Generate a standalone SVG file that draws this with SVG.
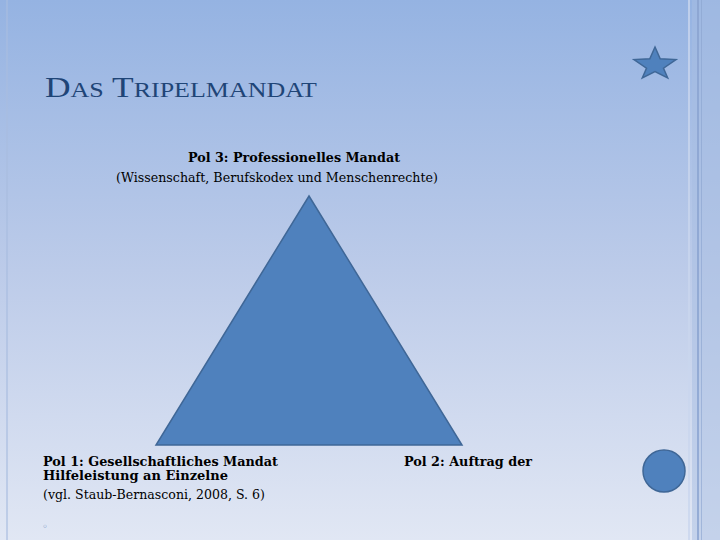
<svg xmlns="http://www.w3.org/2000/svg" width="720" height="540" viewBox="0 0 720 540">
<defs>
<linearGradient id="bg" x1="0" y1="0" x2="0" y2="1">
<stop offset="0" stop-color="#95b3e2"/>
<stop offset="0.5" stop-color="#bccbe9"/>
<stop offset="1" stop-color="#e1e7f4"/>
</linearGradient>
<style>
.t{font-family:'DejaVu Serif','Liberation Serif',serif;fill:#000;font-size:12.5px}
.b{font-weight:bold}
.s{font-size:12px}
.shape{fill:#4f81bd;stroke:#3f6797;stroke-width:1.5}
.title{font-family:'Liberation Serif','DejaVu Serif',serif;font-size:30px;fill:#1f4577}
</style>
</defs>
<rect width="720" height="540" fill="url(#bg)"/>
<rect x="6" y="0" width="2" height="540" fill="#a9bde0" opacity="0.6"/>
<rect x="688" y="0" width="2" height="540" fill="#c9d6ee" opacity="0.8"/>
<rect x="692" y="0" width="28" height="540" fill="#a8bde2" opacity="0.5"/>
<rect x="697" y="0" width="2" height="540" fill="#8aa3cf" opacity="0.8"/>
<rect x="701" y="0" width="1" height="540" fill="#8aa3cf" opacity="0.6"/>
<text class="title" x="45" y="97" textLength="272" lengthAdjust="spacingAndGlyphs">D<tspan font-size="22">AS</tspan> T<tspan font-size="22">RIPELMANDAT</tspan></text>
<g id="star"><polygon class="shape" points="655,47 660.2,58.8 676,59.6 663.5,68.2 667.7,78 655,71.6 642.3,78 646.5,68.2 634,59.6 649.8,58.8" stroke-width="1.2"/></g>
<g id="circle"><circle class="shape" cx="664" cy="471" r="21" stroke="none"/></g>
<g id="triangle"><polygon class="shape" points="309,196 462,445 156,445"/></g>
<g id="pol3">
<text class="t b" x="188" y="162" textLength="212" lengthAdjust="spacingAndGlyphs">Pol 3: Professionelles Mandat</text>
<text class="t" x="116" y="182" textLength="322" lengthAdjust="spacingAndGlyphs">(Wissenschaft, Berufskodex und Menschenrechte)</text>
</g>
<g id="pol1">
<text class="t b s" x="43" y="466" textLength="235" lengthAdjust="spacingAndGlyphs">Pol 1: Gesellschaftliches Mandat</text>
<text class="t b s" x="43" y="480" textLength="185" lengthAdjust="spacingAndGlyphs">Hilfeleistung an Einzelne</text>
<text class="t" x="43" y="499" textLength="222" lengthAdjust="spacingAndGlyphs">(vgl. Staub-Bernasconi, 2008, S. 6)</text>
</g>
<g id="pol2"><text class="t b s" x="404" y="466" textLength="128" lengthAdjust="spacingAndGlyphs">Pol 2: Auftrag der</text></g>
<text x="42" y="530" font-family="DejaVu Sans,sans-serif" font-size="10" fill="#5a7fb5">◦</text>
</svg>
